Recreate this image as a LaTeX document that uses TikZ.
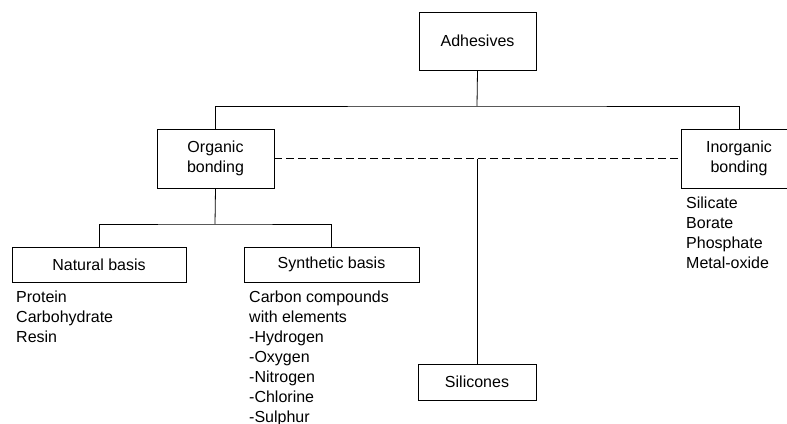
\documentclass[tikz,border=0pt]{standalone}
\usepackage{fontspec}
\setmainfont{Liberation Sans}
\begin{document}
\begin{tikzpicture}[x=1pt,y=-1pt,
  box/.style={draw,line width=0.8pt,inner sep=0pt,align=center,font=\fontsize{16}{20}\selectfont},
  listtxt/.style={anchor=base west,inner sep=0pt,font=\fontsize{16}{20}\selectfont},
  conn/.style={line width=0.8pt},
  dashconn/.style={line width=1.5pt,dash pattern=on 8pt off 4pt}]
\useasboundingbox (0,0) rectangle (787,423);
\clip (0,0) rectangle (787,423);
\node[box,minimum width=117pt,minimum height=58pt] (adh) at (477.5,41) {Adhesives};
\node[box,minimum width=117pt,minimum height=59pt] (org) at (215.5,158.5) {Organic\\bonding};
\node[box,minimum width=116pt,minimum height=59pt] (inorg) at (739,158.5) {Inorganic\\bonding};
\node[box,minimum width=174pt,minimum height=35pt] (nat) at (99,264.5) {Natural basis};
\node[box,minimum width=175pt,minimum height=35pt] (syn) at (331.5,264.5) {Synthetic basis};
\node[box,minimum width=118pt,minimum height=36pt] (sil) at (477,382) {Silicones};
\coordinate (j1) at (477,106);
\coordinate (j2) at (215,224);
\coordinate (j3) at (477,158.5);
\draw[conn] (adh.south) -- (j1);
\draw[conn] (org.north) |- (j1) -| (inorg.north);
\draw[conn] (org.south) -- (j2);
\draw[conn] (nat.north) |- (j2) -| (syn.north);
\draw[dashconn] (org.east) -- (inorg.west);
\draw[conn] (j3) -- (sil.north);
\foreach \t [count=\i] in {Protein,Carbohydrate,Resin}
  \node[listtxt] (natl\i) at (16,302+20*\i-20) {\t};
\foreach \t [count=\i] in {Carbon compounds,with elements,-Hydrogen,-Oxygen,-Nitrogen,-Chlorine,-Sulphur}
  \node[listtxt] (synl\i) at (249,302+20*\i-20) {\t};
\foreach \t [count=\i] in {Silicate,Borate,Phosphate,Metal-oxide}
  \node[listtxt] (inl\i) at (686,208+20*\i-20) {\t};
\end{tikzpicture}
\end{document}
